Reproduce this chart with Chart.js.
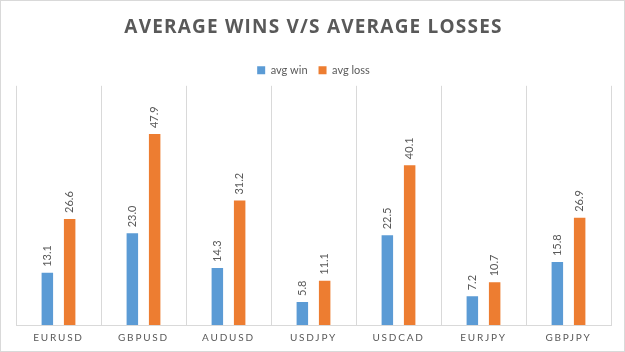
<!DOCTYPE html>
<html>
<head>
<meta charset="utf-8">
<script src="https://cdn.jsdelivr.net/npm/chart.js@4.4.1/dist/chart.umd.min.js"></script>
<style>
  html, body { margin: 0; padding: 0; background: #fff; }
  #wrap {
    width: 625px; height: 352px;
    box-sizing: border-box;
    border: 1px solid #d9d9d9;
    position: relative;
  }
</style>
</head>
<body>
<div id="wrap"><canvas id="chart"></canvas></div>
<script>
const pairs   = ["EURUSD", "GBPUSD", "AUDUSD", "USDJPY", "USDCAD", "EURJPY", "GBPJPY"];
const avgWin  = [13.1, 23.0, 14.3, 5.8, 22.5, 7.2, 15.8];
const avgLoss = [26.6, 47.9, 31.2, 11.1, 40.1, 10.7, 26.9];

const GREY = "#595959";

// letter spacing for the title and the x labels (canvas letterSpacing)
function spaced(chart, box, fn, sp) {
  if (!box || box["_sp_" + fn]) return;
  const orig = box[fn].bind(box);
  box[fn] = (area) => {
    const c = chart.ctx;
    c.save();
    c.letterSpacing = sp;
    orig(area);
    c.restore();
  };
  box["_sp_" + fn] = true;
}

const spacing = {
  id: "spacing",
  beforeDraw(chart) {
    spaced(chart, chart.scales.x, "drawLabels", "1.8px");
    spaced(chart, chart.titleBlock, "draw", "1.2px");
  }
};

// rotated value labels above each bar
const valueLabels = {
  id: "valueLabels",
  afterDatasetsDraw(chart) {
    const ctx = chart.ctx;
    chart.data.datasets.forEach((ds, i) => {
      chart.getDatasetMeta(i).data.forEach((bar, j) => {
        ctx.save();
        ctx.translate(bar.x, bar.y - 6);
        ctx.rotate(-Math.PI / 2);
        ctx.font = "11px Lato";
        ctx.fillStyle = GREY;
        ctx.textAlign = "left";
        ctx.textBaseline = "middle";
        ctx.fillText(ds.data[j].toFixed(1), 0, 0);
        ctx.restore();
      });
    });
  }
};

new Chart(document.getElementById("chart"), {
  type: "bar",
  data: {
    labels: pairs,
    datasets: [
      { label: "avg win",  data: avgWin,  backgroundColor: "#5b9bd5" },
      { label: "avg loss", data: avgLoss, backgroundColor: "#ed7d31" }
    ]
  },
  options: {
    responsive: true,
    maintainAspectRatio: false,
    animation: false,
    categoryPercentage: 0.525,
    barPercentage: 0.515,
    layout: { padding: { left: 15, right: 13, top: 0, bottom: 0 } },
    plugins: {
      title: {
        display: true,
        text: "AVERAGE WINS V/S AVERAGE LOSSES",
        color: GREY,
        font: { family: "'Open Sans'", size: 19, weight: "bold" },
        padding: { top: 15, bottom: 15 }
      },
      legend: {
        labels: {
          color: GREY,
          font: { family: "Lato", size: 11 },
          boxWidth: 8,
          boxHeight: 8,
          padding: 11
        }
      },
      tooltip: { enabled: false }
    },
    scales: {
      x: {
        grid: { color: "#d9d9d9", drawTicks: false, offset: true },
        border: { color: "#d9d9d9" },
        ticks: { color: GREY, font: { family: "Lato", size: 10 }, padding: 7 }
      },
      y: {
        display: false,
        min: 0,
        max: 60
      }
    }
  },
  plugins: [spacing, valueLabels]
});
</script>
</body>
</html>
